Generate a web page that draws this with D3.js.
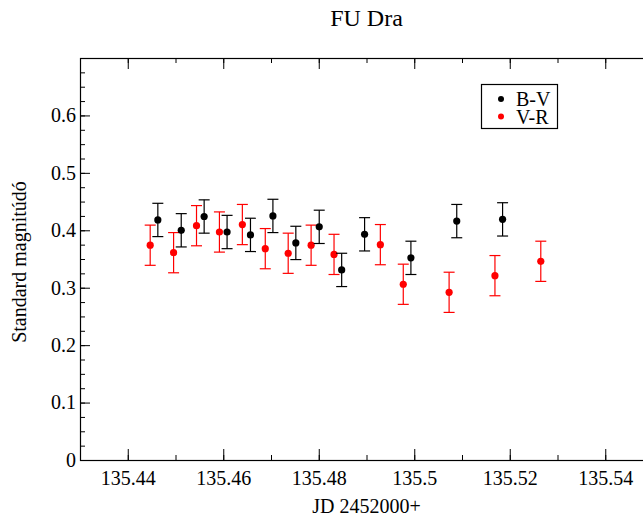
<!DOCTYPE html>
<html>
<head>
<meta charset="utf-8">
<script src="https://cdn.jsdelivr.net/npm/d3@7"></script>
<style>
  body { margin: 0; background: #fff; }
  text { font-family: "Liberation Serif", "Times New Roman", serif; }
</style>
</head>
<body>
<div id="chart"></div>
<script>
// B-V series
var bvJD = [135.4463, 135.4512, 135.4560, 135.4608, 135.4657, 135.4704, 135.4752,
  135.4801, 135.4848, 135.4896, 135.4993, 135.5089, 135.5185];
var bvMag = [0.418, 0.400, 0.424, 0.397, 0.392, 0.425, 0.378, 0.406, 0.331, 0.393,
  0.352, 0.416, 0.419];
var bvErr = [0.029, 0.029, 0.029, 0.029, 0.029, 0.029, 0.029, 0.029, 0.029, 0.029,
  0.029, 0.029, 0.029];

// V-R series
var vrJD = [135.4447, 135.4496, 135.4544, 135.4592, 135.4640, 135.4688, 135.4736,
  135.4784, 135.4832, 135.4929, 135.4977, 135.5073, 135.5169, 135.5265];
var vrMag = [0.374, 0.361, 0.408, 0.397, 0.410, 0.368, 0.360, 0.374, 0.358, 0.375,
  0.306, 0.292, 0.321, 0.346];
var vrErr = [0.035, 0.035, 0.035, 0.035, 0.035, 0.035, 0.035, 0.035, 0.035, 0.035,
  0.035, 0.035, 0.035, 0.035];

var xTicks = [135.44, 135.46, 135.48, 135.5, 135.52, 135.54];
var yTicks = [0, 0.1, 0.2, 0.3, 0.4, 0.5, 0.6];
var seriesNames = ["B-V", "V-R"];
var seriesColors = ["#000000", "#ff0000"];

var width = 643;
var height = 521;
var plotLeft = 80, plotRight = 653, plotTop = 58, plotBottom = 460;

var x = d3.scaleLinear().domain([135.43, 135.55]).range([plotLeft, plotRight]);
var y = d3.scaleLinear().domain([0, 0.7]).range([plotBottom, plotTop]);

var svg = d3.select("#chart").append("svg")
  .attr("width", width)
  .attr("height", height);

/* ticks (inside, on all four sides) */
var xMinor = d3.range(135.43, 135.555, 0.01).map(d => +d.toFixed(2));
var yMinor = d3.range(0, 0.701, 0.025).map(d => +d.toFixed(3));

function tickGroup(axis, tr) {
  var g = svg.append("g").attr("transform", tr).call(axis);
  g.select(".domain").remove();
  g.selectAll("line").attr("stroke", "#000");
  g.selectAll("text").attr("font-size", 20).attr("fill", "#000")
    .attr("font-family", "'Liberation Serif', 'Times New Roman', serif");
  return g;
}

tickGroup(d3.axisBottom(x).tickValues(xMinor).tickSize(-5).tickFormat(""), `translate(0,${plotBottom})`);
tickGroup(d3.axisBottom(x).tickValues(xTicks).tickSize(-11).tickPadding(11).tickFormat(d => d), `translate(0,${plotBottom})`);
tickGroup(d3.axisTop(x).tickValues(xMinor).tickSize(-5).tickFormat(""), `translate(0,${plotTop})`);
tickGroup(d3.axisTop(x).tickValues(xTicks).tickSize(-11).tickFormat(""), `translate(0,${plotTop})`);

tickGroup(d3.axisLeft(y).tickValues(yMinor).tickSize(-5).tickFormat(""), `translate(${plotLeft},0)`);
tickGroup(d3.axisLeft(y).tickValues(yTicks).tickSize(-10).tickPadding(4).tickFormat(d => d), `translate(${plotLeft},0)`);
tickGroup(d3.axisRight(y).tickValues(yMinor).tickSize(-5).tickFormat(""), `translate(${plotRight},0)`);
tickGroup(d3.axisRight(y).tickValues(yTicks).tickSize(-10).tickFormat(""), `translate(${plotRight},0)`);

/* frame */
svg.append("rect")
  .attr("x", plotLeft + 0.5).attr("y", plotTop + 0.5)
  .attr("width", plotRight - plotLeft).attr("height", plotBottom - plotTop)
  .attr("fill", "none").attr("stroke", "#000").attr("stroke-width", 1.2);

/* series with error bars */
function drawSeries(jd, mag, err, color) {
  var pts = jd.map((d, i) => ({ jd: d, mag: mag[i], err: err[i] }));
  var g = svg.append("g").attr("stroke", color).attr("fill", color);
  var eb = g.selectAll(".eb").data(pts).enter().append("g");
  eb.append("line")
    .attr("x1", d => x(d.jd)).attr("x2", d => x(d.jd))
    .attr("y1", d => y(d.mag - d.err)).attr("y2", d => y(d.mag + d.err))
    .attr("stroke-width", 1.2);
  eb.append("line")
    .attr("x1", d => x(d.jd) - 5.5).attr("x2", d => x(d.jd) + 5.5)
    .attr("y1", d => y(d.mag + d.err)).attr("y2", d => y(d.mag + d.err))
    .attr("stroke-width", 1.2);
  eb.append("line")
    .attr("x1", d => x(d.jd) - 5.5).attr("x2", d => x(d.jd) + 5.5)
    .attr("y1", d => y(d.mag - d.err)).attr("y2", d => y(d.mag - d.err))
    .attr("stroke-width", 1.2);
  g.selectAll("circle").data(pts).enter().append("circle")
    .attr("cx", d => x(d.jd)).attr("cy", d => y(d.mag))
    .attr("r", 3.6).attr("stroke", "none");
}

drawSeries(vrJD, vrMag, vrErr, seriesColors[1]);
drawSeries(bvJD, bvMag, bvErr, seriesColors[0]);

/* legend */
var legend = svg.append("g");
legend.append("rect")
  .attr("x", 481.5).attr("y", 84.5).attr("width", 76).attr("height", 44)
  .attr("fill", "#fff").attr("stroke", "#000").attr("stroke-width", 1.2);
seriesNames.forEach(function (name, i) {
  legend.append("circle")
    .attr("cx", 501).attr("cy", 99 + i * 17.5).attr("r", 3)
    .attr("fill", seriesColors[i]);
  legend.append("text")
    .attr("x", 516).attr("y", 106 + i * 17.5)
    .attr("font-size", 20).attr("fill", "#000")
    .text(name);
});

/* titles */
svg.append("text")
  .attr("x", (plotLeft + plotRight) / 2).attr("y", 26)
  .attr("text-anchor", "middle").attr("font-size", 24)
  .text("FU Dra");

svg.append("text")
  .attr("x", (plotLeft + plotRight) / 2).attr("y", 513)
  .attr("text-anchor", "middle").attr("font-size", 20)
  .text("JD 2452000+");

svg.append("text")
  .attr("transform", `translate(25.5, ${(plotTop + plotBottom) / 2 + 3}) rotate(-90)`)
  .attr("text-anchor", "middle").attr("font-size", 20)
  .text("Standard magnitúdó");
</script>
</body>
</html>
